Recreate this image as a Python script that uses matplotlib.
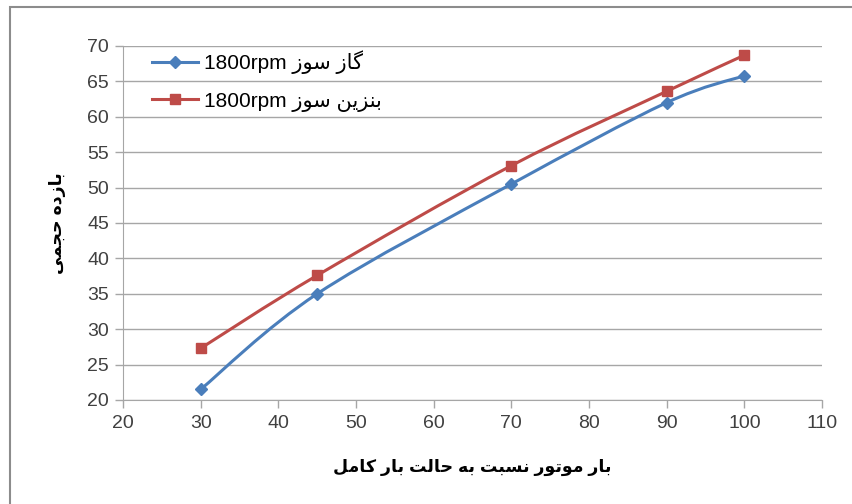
import matplotlib
matplotlib.use('Agg')
import matplotlib.pyplot as plt
import numpy as np
from matplotlib.lines import Line2D
from matplotlib.patches import PathPatch, Rectangle
from matplotlib.path import Path

# engine load (% of full load) and volumetric efficiency (%)
load = [30, 45, 70, 90, 100]
eff_gas = [21.5, 35.0, 50.5, 62.0, 65.8]
eff_petrol = [27.3, 37.6, 53.1, 63.6, 68.7]

x_ticks = [20, 30, 40, 50, 60, 70, 80, 90, 100, 110]
y_ticks = [20, 25, 30, 35, 40, 45, 50, 55, 60, 65, 70]

BLUE = '#4a7ebb'
RED = '#be4b48'
GRID = '#a6a6a6'
TEXT = '#404040'

# contextual forms (isolated, final, initial, medial) for the letters used below
FORMS = {
    'ا': (0xFE8D, 0xFE8E, None, None),
    'ب': (0xFE8F, 0xFE90, 0xFE91, 0xFE92),
    'ت': (0xFE95, 0xFE96, 0xFE97, 0xFE98),
    'ج': (0xFE9D, 0xFE9E, 0xFE9F, 0xFEA0),
    'ح': (0xFEA1, 0xFEA2, 0xFEA3, 0xFEA4),
    'د': (0xFEA9, 0xFEAA, None, None),
    'ر': (0xFEAD, 0xFEAE, None, None),
    'ز': (0xFEAF, 0xFEB0, None, None),
    'س': (0xFEB1, 0xFEB2, 0xFEB3, 0xFEB4),
    'ل': (0xFEDD, 0xFEDE, 0xFEDF, 0xFEE0),
    'م': (0xFEE1, 0xFEE2, 0xFEE3, 0xFEE4),
    'ن': (0xFEE5, 0xFEE6, 0xFEE7, 0xFEE8),
    'ه': (0xFEE9, 0xFEEA, 0xFEEB, 0xFEEC),
    'و': (0xFEED, 0xFEEE, None, None),
    'ی': (0xFBFC, 0xFBFD, 0xFBFE, 0xFBFF),
    'گ': (0xFB92, 0xFB93, 0xFB94, 0xFB95),
    'ک': (0xFB8E, 0xFB8F, 0xFB90, 0xFB91),
}


def joins_left(ch):
    return ch in FORMS and FORMS[ch][2] is not None


def shape(text):
    """Pick joined letter forms and return the string in visual (LTR) order."""
    out = []
    for i, ch in enumerate(text):
        if ch not in FORMS:
            out.append(ch)
            continue
        prev = text[i - 1] if i > 0 else ''
        nxt = text[i + 1] if i + 1 < len(text) else ''
        after = joins_left(prev)
        before = joins_left(ch) and nxt in FORMS
        iso, fin, ini, med = FORMS[ch]
        if after and before:
            cp = med
        elif after:
            cp = fin
        elif before:
            cp = ini
        else:
            cp = iso
        out.append(chr(cp))
    return ''.join(reversed(out))


def smooth_path(xs, ys):
    """Cubic Bezier through the points (Catmull-Rom style, like a smoothed line)."""
    pts = np.column_stack([xs, ys]).astype(float)
    p = np.vstack([pts[0], pts, pts[-1]])
    verts = [tuple(pts[0])]
    codes = [Path.MOVETO]
    for i in range(1, len(p) - 2):
        c1 = p[i] + (p[i + 1] - p[i - 1]) / 6
        c2 = p[i + 1] - (p[i + 2] - p[i]) / 6
        verts += [tuple(c1), tuple(c2), tuple(p[i + 1])]
        codes += [Path.CURVE4] * 3
    return Path(verts, codes)


plt.rcParams['font.family'] = ['Liberation Sans', 'DejaVu Sans']

fig = plt.figure(figsize=(8.52, 5.04), dpi=100)
fig.patches.append(Rectangle((10 / 852, -0.02), 1.05, 1 - 7 / 504 + 0.02,
                             transform=fig.transFigure, fill=False,
                             edgecolor='#8c8c8c', linewidth=1.5))
ax = fig.add_axes([123 / 852, 1 - 400 / 504, 699 / 852, 354 / 504])

series = [
    (eff_gas, BLUE, 'D', 6.5, '1800rpm ' + shape('گاز سوز')),
    (eff_petrol, RED, 's', 7.5, '1800rpm ' + shape('بنزین سوز')),
]
handles = []
for vals, c, m, ms, name in series:
    ax.add_patch(PathPatch(smooth_path(load, vals), fill=False,
                           edgecolor=c, linewidth=2.2, zorder=3))
    ax.plot(load, vals, ls='none', marker=m, ms=ms, color=c, zorder=4)
    handles.append(Line2D([], [], color=c, lw=2.2, marker=m, ms=ms))

ax.set_xlim(20, 110)
ax.set_ylim(20, 70)
ax.set_xticks(x_ticks)
ax.set_yticks(y_ticks)
ax.tick_params(axis='both', labelsize=14, colors=GRID, labelcolor=TEXT,
               length=6, width=1)
ax.tick_params(axis='y', pad=4)
ax.tick_params(axis='x', pad=5)
ax.grid(axis='y', color=GRID, linewidth=1)
ax.set_axisbelow(True)
for s in ('top', 'right'):
    ax.spines[s].set_visible(False)
for s in ('left', 'bottom'):
    ax.spines[s].set_color(GRID)

leg_names = [h[4] for h in series]
ax.legend(handles, leg_names, loc='upper left', bbox_to_anchor=(0.03, 1.012),
          frameon=False, fontsize=15, handlelength=2.2, handletextpad=0.3,
          labelspacing=0.85, borderaxespad=0)

ax.set_xlabel(shape('بار موتور نسبت به حالت بار کامل'), fontsize=12.5,
              fontweight='bold', labelpad=19)
ax.set_ylabel(shape('بازده حجمی'), fontsize=12.5, fontweight='bold', labelpad=15)

fig.savefig('out.png', dpi=100)
